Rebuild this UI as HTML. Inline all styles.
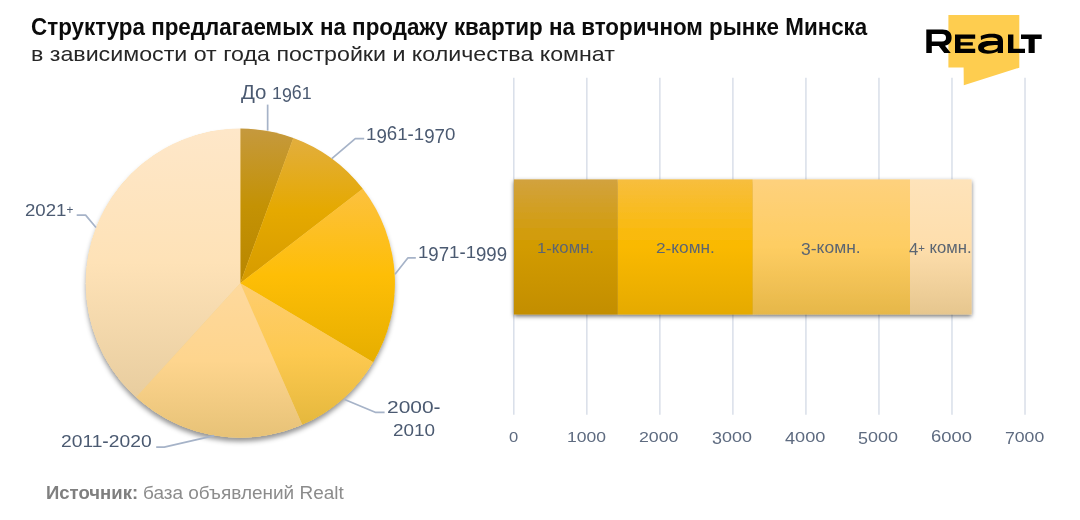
<!DOCTYPE html>
<html lang="ru"><head><meta charset="utf-8"><title>Структура предлагаемых на продажу квартир</title>
<style>html,body{margin:0;padding:0;background:#fff}body{width:1080px;height:520px;position:relative;overflow:hidden;font-family:"Liberation Sans",sans-serif}.abs{position:absolute}.t{position:absolute;white-space:nowrap;transform-origin:0 0;line-height:1}.o{display:inline-block}.d{position:relative}</style></head><body>
<svg class="abs" style="left:0;top:0" width="1080" height="520" viewBox="0 0 1080 520">
<defs>
<linearGradient id="p0" x1="0" y1="0" x2="0" y2="1"><stop offset="0" stop-color="#c5993e"/><stop offset="0.5" stop-color="#c49204"/><stop offset="1" stop-color="#b88600"/></linearGradient>
<linearGradient id="p1" x1="0" y1="0" x2="0" y2="1"><stop offset="0" stop-color="#e2ae3e"/><stop offset="0.5" stop-color="#e5a900"/><stop offset="1" stop-color="#d69b00"/></linearGradient>
<linearGradient id="p2" x1="0" y1="0" x2="0" y2="1"><stop offset="0" stop-color="#fcc13f"/><stop offset="0.5" stop-color="#febe06"/><stop offset="1" stop-color="#e6ae00"/></linearGradient>
<linearGradient id="p3" x1="0" y1="0" x2="0" y2="1"><stop offset="0" stop-color="#fecd6f"/><stop offset="0.5" stop-color="#fdc950"/><stop offset="1" stop-color="#e5b83d"/></linearGradient>
<linearGradient id="p4" x1="0" y1="0" x2="0" y2="1"><stop offset="0" stop-color="#fed99d"/><stop offset="0.5" stop-color="#fed58e"/><stop offset="1" stop-color="#e7c277"/></linearGradient>
<linearGradient id="p5" x1="0" y1="0" x2="0" y2="1"><stop offset="0" stop-color="#fee7c9"/><stop offset="0.5" stop-color="#fee2b7"/><stop offset="1" stop-color="#e8cd9f"/></linearGradient>
<linearGradient id="b0" x1="0" y1="0" x2="0" y2="1"><stop offset="0" stop-color="#d2a23e"/><stop offset="0.5" stop-color="#d29b00"/><stop offset="1" stop-color="#c38e00"/></linearGradient>
<linearGradient id="b1" x1="0" y1="0" x2="0" y2="1"><stop offset="0" stop-color="#f7be3e"/><stop offset="0.5" stop-color="#fab900"/><stop offset="1" stop-color="#e5aa00"/></linearGradient>
<linearGradient id="b2" x1="0" y1="0" x2="0" y2="1"><stop offset="0" stop-color="#fed17d"/><stop offset="0.5" stop-color="#fecd62"/><stop offset="1" stop-color="#e6b749"/></linearGradient>
<linearGradient id="b3" x1="0" y1="0" x2="0" y2="1"><stop offset="0" stop-color="#fee3ba"/><stop offset="0.5" stop-color="#fedeac"/><stop offset="1" stop-color="#e6c68e"/></linearGradient>
<filter id="sh" x="-10%" y="-10%" width="120%" height="125%"><feDropShadow dx="0" dy="4" stdDeviation="2.5" flood-color="#000" flood-opacity="0.42"/></filter>
<filter id="sb" x="-5%" y="-10%" width="110%" height="125%"><feDropShadow dx="0" dy="1.8" stdDeviation="1.9" flood-color="#000" flood-opacity="0.56"/></filter>
</defs>
<g stroke="#d9dfe9" stroke-width="1.5">
<line x1="513.80" y1="77.8" x2="513.80" y2="414.7"/>
<line x1="586.83" y1="77.8" x2="586.83" y2="414.7"/>
<line x1="659.86" y1="77.8" x2="659.86" y2="414.7"/>
<line x1="732.89" y1="77.8" x2="732.89" y2="414.7"/>
<line x1="805.92" y1="77.8" x2="805.92" y2="414.7"/>
<line x1="878.95" y1="77.8" x2="878.95" y2="414.7"/>
<line x1="951.98" y1="77.8" x2="951.98" y2="414.7"/>
<line x1="1025.01" y1="77.8" x2="1025.01" y2="414.7"/>
</g>
<g filter="url(#sb)">
<rect x="513.90" y="179.4" width="103.90" height="135.10" fill="url(#b0)"/>
<rect x="617.80" y="179.4" width="135.00" height="135.10" fill="url(#b1)"/>
<rect x="752.80" y="179.4" width="157.20" height="135.10" fill="url(#b2)"/>
<rect x="910.00" y="179.4" width="61.60" height="135.10" fill="url(#b3)"/>
</g>
<circle cx="240.3" cy="283.2" r="154.30" fill="#f3cf7c" filter="url(#sh)"/>
<g>
<path d="M240.30,283.20 L240.30,128.60 A154.6,154.6 0 0 1 293.33,137.98 Z" fill="url(#p0)"/>
<path d="M240.30,283.20 L293.33,137.98 A154.6,154.6 0 0 1 362.79,188.87 Z" fill="url(#p1)"/>
<path d="M240.30,283.20 L362.79,188.87 A154.6,154.6 0 0 1 373.23,362.13 Z" fill="url(#p2)"/>
<path d="M240.30,283.20 L373.23,362.13 A154.6,154.6 0 0 1 302.19,424.87 Z" fill="url(#p3)"/>
<path d="M240.30,283.20 L302.19,424.87 A154.6,154.6 0 0 1 136.05,397.37 Z" fill="url(#p4)"/>
<path d="M240.30,283.20 L136.05,397.37 A154.6,154.6 0 0 1 240.30,128.60 Z" fill="url(#p5)"/>
</g>
<g fill="none" stroke="#a6b3c8" stroke-width="1.7" stroke-linejoin="round">
<path d="M267.65,104.6 V130.6"/>
<path d="M331.8,158.6 L355.3,138.65 H364.2"/>
<path d="M395,274.2 L407.8,257.95 H415.8"/>
<path d="M344.6,399.5 L375.8,412.45 H384.6"/>
<path d="M214.2,435.6 L164.2,447.05 H156.2"/>
<path d="M96,227.5 L85.6,215.15 H76.7"/>
</g>
</svg>
<svg class="abs" style="left:920px;top:10px" width="130" height="80" viewBox="920 10 130 80">
<path d="M948.4,15.1 H1019.3 V67.7 L963.8,85.2 L963.6,67.5 H948.4 Z" fill="#fecd4f"/>
<g fill="#000">
<!-- R -->
<path d="M926.3,29.6 H942.5 C948.6,29.6 951.6,32.6 951.6,37.7 C951.6,42 949.2,44.8 945,45.7 L950.8,53 H944.2 L938.8,46.1 H931.8 V53 H926.3 Z M931.8,34.1 V41.6 H942 C944.7,41.6 946,40.3 946,37.8 C946,35.4 944.7,34.1 942,34.1 Z" fill-rule="evenodd"/>
<!-- E -->
<path d="M955,34.5 H975.2 V38.8 H960.5 V42.2 H972.8 V45.6 H960.5 V48.8 H975.2 V53 H955 Z"/>
<!-- a -->
<path d="M981,39.9 L980.7,35.9 C984,34.3 988,33.7 992,33.7 C999.5,33.7 1003,36 1003,41 V53 H997.7 V51.3 C995.5,52.9 992,53.7 987.8,53.7 C981.5,53.7 978.1,51.6 978.1,47.6 C978.1,43.4 982,41 989.3,41 H997.7 V40.6 C997.7,38.4 995.5,37.4 991,37.4 C987,37.4 983.5,38.4 981,39.9 Z M983.9,48 C985.5,45.9 989.5,44.9 997.7,44.9 V46.4 C997.7,49 994,50.4 989.5,50.4 C985.8,50.4 983.9,49.5 983.9,48 Z" fill-rule="evenodd"/>
<!-- L -->
<path d="M1008,34.6 H1013.4 V48.7 H1025 V53 H1008 Z"/>
<!-- T -->
<path d="M1021,34.4 H1041.7 V39 H1034.7 V53 H1028.6 V39 H1021 Z"/>
</g></svg>
<div class="t" style="left:30.70px;top:16px;font-size:23.1px;font-weight:bold;color:#0b0b0b;transform:scaleX(0.9692)">Структура предлагаемых на продажу квартир на вторичном рынке Минска</div>
<div class="t" style="left:30.60px;top:43px;font-size:21.0px;color:#262626;transform:scaleX(1.1050)">в зависимости от года постройки и количества комнат</div>
<div class="t" style="left:241.00px;top:82px;font-size:20.6px;color:#4b5a71;transform:scaleX(0.9945)">До</div>
<div class="t" style="left:271.90px;top:81px;font-size:21.1px;color:#4b5a71;transform:scaleX(0.8437)"><span class="o" style="transform:scaleY(0.81);transform-origin:50% 18px">1</span><span class="d" style="top:2.5px">9</span>6<span class="o" style="transform:scaleY(0.81);transform-origin:50% 18px">1</span></div>
<div class="t" style="left:366.40px;top:122px;font-size:21.1px;color:#4b5a71;transform:scaleX(0.8860)"><span class="o" style="transform:scaleY(0.81);transform-origin:50% 18px">1</span><span class="d" style="top:2.5px">9</span>6<span class="o" style="transform:scaleY(0.81);transform-origin:50% 18px">1</span><span class="d" style="top:1px">-</span><span class="o" style="transform:scaleY(0.81);transform-origin:50% 18px">1</span><span class="d" style="top:2.5px">97</span><span class="o" style="transform:scaleY(0.81);transform-origin:50% 18px">0</span></div>
<div class="t" style="left:418.40px;top:240px;font-size:21.1px;color:#4b5a71;transform:scaleX(0.8830)"><span class="o" style="transform:scaleY(0.81);transform-origin:50% 18px">1</span><span class="d" style="top:2.5px">97</span><span class="o" style="transform:scaleY(0.81);transform-origin:50% 18px">1</span><span class="d" style="top:1px">-</span><span class="o" style="transform:scaleY(0.81);transform-origin:50% 18px">1</span><span class="d" style="top:2.5px">999</span></div>
<div class="t" style="left:387.00px;top:395px;font-size:21.1px;color:#4b5a71;transform:scaleX(0.9932)"><span class="o" style="transform:scaleY(0.81);transform-origin:50% 18px">2000</span><span class="d" style="top:1px">-</span></div>
<div class="t" style="left:393.10px;top:418px;font-size:21.1px;color:#4b5a71;transform:scaleX(0.8969)"><span class="o" style="transform:scaleY(0.81);transform-origin:50% 18px">2010</span></div>
<div class="t" style="left:60.90px;top:429px;font-size:21.1px;color:#4b5a71;transform:scaleX(0.9121)"><span class="o" style="transform:scaleY(0.81);transform-origin:50% 18px">2011</span><span class="d" style="top:1px">-</span><span class="o" style="transform:scaleY(0.81);transform-origin:50% 18px">2020</span></div>
<div class="t" style="left:24.80px;top:198px;font-size:21.1px;color:#4b5a71;transform:scaleX(0.8829)"><span class="o" style="transform:scaleY(0.81);transform-origin:50% 18px">2021</span><span class="d" style="font-size:13.3px;top:-2.1px">+</span></div>
<div class="t" style="left:536.60px;top:240px;font-size:16.8px;color:#5b6572;transform:scaleX(0.9951)"><span class="o" style="transform:scaleY(0.85);transform-origin:50% 13px">1</span><span class="d" style="top:1px">-</span>комн.</div>
<div class="t" style="left:655.70px;top:240px;font-size:16.8px;color:#5b6572;transform:scaleX(1.0283)"><span class="o" style="transform:scaleY(0.85);transform-origin:50% 13px">2</span><span class="d" style="top:1px">-</span>комн.</div>
<div class="t" style="left:801.30px;top:240px;font-size:16.8px;color:#5b6572;transform:scaleX(1.0422)"><span class="d" style="top:2.2px">3</span><span class="d" style="top:1px">-</span>комн.</div>
<div class="t" style="left:908.60px;top:240px;font-size:16.8px;color:#5b6572;transform:scaleX(0.9943)"><span class="d" style="top:2.2px">4</span><span class="d" style="font-size:11.5px;top:-1.4px">+</span> комн.</div>
<div class="t" style="left:45.70px;top:484px;font-size:18.9px;font-weight:bold;color:#7f7f7f;transform:scaleX(0.9809)">Источник:</div>
<div class="t" style="left:143.40px;top:484px;font-size:18.9px;color:#8c8c8c;transform:scaleX(1.0047)">база объявлений Realt</div>
<div class="t" style="left:508.90px;top:428px;font-size:17.4px;color:#5e6b80;transform:scaleX(0.9512)"><span class="o" style="transform:scaleY(0.815);transform-origin:50% 14px">0</span></div>
<div class="t" style="left:566.63px;top:428px;font-size:17.4px;color:#5e6b80;transform:scaleX(1.0055)"><span class="o" style="transform:scaleY(0.815);transform-origin:50% 14px">1000</span></div>
<div class="t" style="left:639.41px;top:428px;font-size:17.4px;color:#5e6b80;transform:scaleX(1.0184)"><span class="o" style="transform:scaleY(0.815);transform-origin:50% 14px">2000</span></div>
<div class="t" style="left:712.19px;top:428px;font-size:17.4px;color:#5e6b80;transform:scaleX(1.0313)"><span class="d" style="top:2.4px">3</span><span class="o" style="transform:scaleY(0.815);transform-origin:50% 14px">000</span></div>
<div class="t" style="left:784.97px;top:428px;font-size:17.4px;color:#5e6b80;transform:scaleX(1.0443)"><span class="d" style="top:2.4px">4</span><span class="o" style="transform:scaleY(0.815);transform-origin:50% 14px">000</span></div>
<div class="t" style="left:858.25px;top:428px;font-size:17.4px;color:#5e6b80;transform:scaleX(1.0313)"><span class="d" style="top:2.4px">5</span><span class="o" style="transform:scaleY(0.815);transform-origin:50% 14px">000</span></div>
<div class="t" style="left:930.78px;top:428px;font-size:17.4px;color:#5e6b80;transform:scaleX(1.0572)">6<span class="o" style="transform:scaleY(0.815);transform-origin:50% 14px">000</span></div>
<div class="t" style="left:1004.66px;top:428px;font-size:17.4px;color:#5e6b80;transform:scaleX(1.0132)"><span class="d" style="top:2.4px">7</span><span class="o" style="transform:scaleY(0.815);transform-origin:50% 14px">000</span></div>
</body></html>
